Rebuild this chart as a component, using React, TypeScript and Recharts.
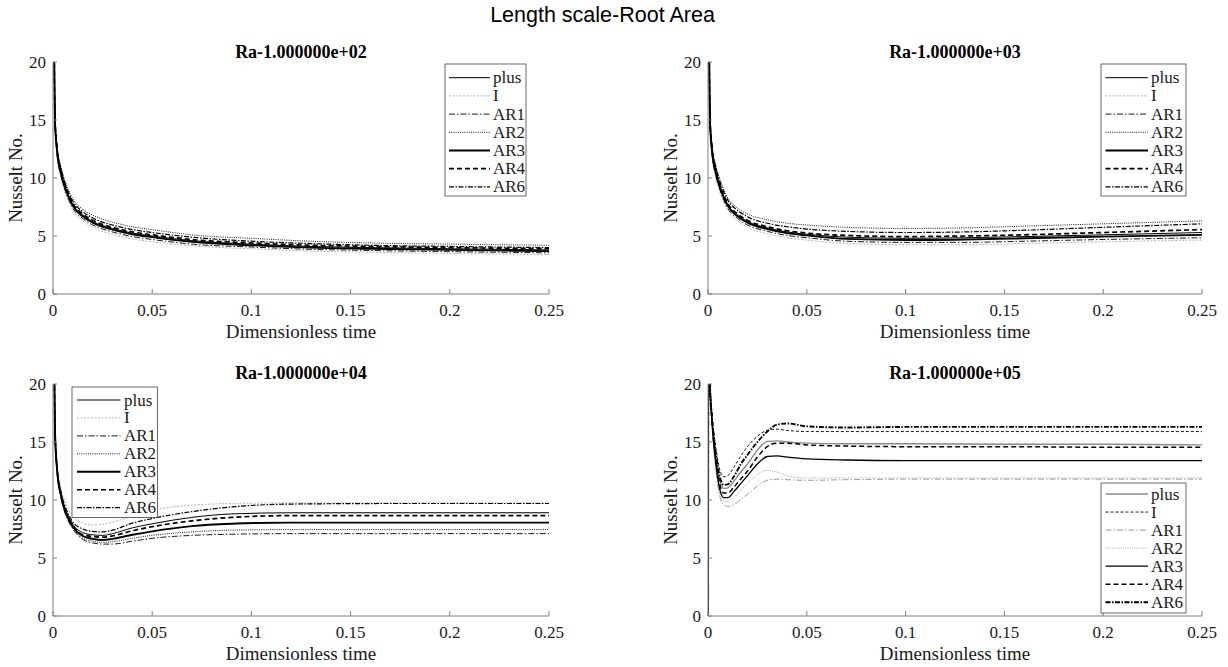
import { LineChart, Line, XAxis, YAxis } from "recharts";

const seriesNames = ["plus", "I", "AR1", "AR2", "AR3", "AR4", "AR6"];
const xTicks = [0, 0.05, 0.1, 0.15, 0.2, 0.25];
const yTicks = [0, 5, 10, 15, 20];

// Ra = 1e2 and 1e3 share the same sampling times
const timeTop = [0.0005, 0.001, 0.002, 0.004, 0.006, 0.008, 0.01, 0.015, 0.02, 0.03, 0.04, 0.05, 0.07, 0.1, 0.13, 0.16, 0.2, 0.25];

const ra2Plus = [22, 15.0, 12.5, 10.5, 9.3, 8.4, 7.7, 6.8, 6.25, 5.65, 5.25, 5.0, 4.6, 4.3, 4.1, 4.0, 3.9, 3.8];
const ra2I = [22, 14.7, 12.0, 10.0, 8.8, 7.9, 7.2, 6.3, 5.75, 5.15, 4.75, 4.5, 4.15, 3.9, 3.7, 3.6, 3.5, 3.4];
const ra2AR1 = [22, 14.8, 12.2, 10.2, 9.0, 8.1, 7.4, 6.5, 5.95, 5.35, 4.95, 4.7, 4.3, 4.05, 3.85, 3.75, 3.65, 3.55];
const ra2AR2 = [22, 15.3, 12.9, 11.0, 9.8, 8.9, 8.2, 7.3, 6.8, 6.2, 5.8, 5.55, 5.1, 4.8, 4.55, 4.4, 4.3, 4.2];
const ra2AR3 = [22, 14.9, 12.4, 10.4, 9.2, 8.3, 7.6, 6.7, 6.15, 5.55, 5.15, 4.9, 4.5, 4.2, 4.0, 3.9, 3.8, 3.7];
const ra2AR4 = [22, 15.1, 12.6, 10.6, 9.4, 8.5, 7.8, 6.9, 6.35, 5.75, 5.35, 5.1, 4.7, 4.4, 4.2, 4.1, 4.0, 3.9];
const ra2AR6 = [22, 15.2, 12.7, 10.8, 9.6, 8.7, 8.0, 7.1, 6.55, 5.95, 5.55, 5.3, 4.9, 4.55, 4.35, 4.2, 4.1, 4.0];

const ra3Plus = [22, 15.0, 12.5, 10.5, 9.3, 8.4, 7.7, 6.8, 6.25, 5.7, 5.35, 5.15, 4.9, 4.8, 4.85, 4.95, 5.1, 5.3];
const ra3I = [22, 14.7, 12.0, 10.0, 8.8, 7.9, 7.2, 6.3, 5.75, 5.2, 4.85, 4.65, 4.35, 4.25, 4.25, 4.35, 4.5, 4.65];
const ra3AR1 = [22, 14.8, 12.2, 10.2, 9.0, 8.1, 7.4, 6.5, 5.95, 5.4, 5.05, 4.85, 4.55, 4.45, 4.45, 4.55, 4.7, 4.85];
const ra3AR2 = [22, 15.4, 13.0, 11.1, 9.9, 9.0, 8.3, 7.4, 6.9, 6.4, 6.1, 5.95, 5.75, 5.65, 5.7, 5.85, 6.05, 6.3];
const ra3AR3 = [22, 14.9, 12.4, 10.4, 9.2, 8.3, 7.6, 6.7, 6.15, 5.6, 5.25, 5.05, 4.75, 4.65, 4.7, 4.8, 4.95, 5.1];
const ra3AR4 = [22, 15.1, 12.6, 10.6, 9.4, 8.5, 7.8, 6.9, 6.35, 5.8, 5.45, 5.25, 5.05, 4.95, 5.0, 5.1, 5.3, 5.55];
const ra3AR6 = [22, 15.3, 12.8, 10.9, 9.7, 8.8, 8.1, 7.2, 6.65, 6.1, 5.8, 5.6, 5.4, 5.3, 5.35, 5.5, 5.75, 6.05];

const timeRa4 = [0.0005, 0.001, 0.002, 0.004, 0.006, 0.008, 0.01, 0.015, 0.02, 0.025, 0.03, 0.04, 0.05, 0.07, 0.09, 0.12, 0.18, 0.25];
const ra4Plus = [24, 16, 12.9, 10.6, 9.3, 8.5, 7.9, 7.2, 7.0, 6.95, 7.1, 7.6, 7.95, 8.5, 8.8, 8.9, 8.9, 8.9];
const ra4I = [24, 16, 13.2, 11.0, 9.9, 9.1, 8.6, 8.0, 7.85, 7.9, 8.1, 8.6, 9.1, 9.55, 9.7, 9.75, 9.75, 9.75];
const ra4AR1 = [24, 16, 12.5, 10.2, 8.9, 8.1, 7.5, 6.6, 6.3, 6.2, 6.2, 6.45, 6.7, 6.95, 7.05, 7.1, 7.1, 7.1];
const ra4AR2 = [24, 16, 12.6, 10.3, 9.0, 8.2, 7.6, 6.7, 6.45, 6.35, 6.4, 6.7, 6.95, 7.25, 7.4, 7.45, 7.45, 7.45];
const ra4AR3 = [24, 16, 12.7, 10.4, 9.1, 8.3, 7.7, 6.9, 6.65, 6.55, 6.65, 7.0, 7.3, 7.75, 7.95, 8.05, 8.05, 8.05];
const ra4AR4 = [24, 16, 12.8, 10.5, 9.2, 8.4, 7.8, 7.0, 6.85, 6.8, 6.9, 7.35, 7.7, 8.2, 8.5, 8.65, 8.65, 8.65];
const ra4AR6 = [24, 16, 13.0, 10.7, 9.5, 8.7, 8.1, 7.5, 7.3, 7.25, 7.4, 8.0, 8.4, 9.0, 9.4, 9.65, 9.7, 9.7];

const timeRa5 = [0, 0.0003, 0.001, 0.002, 0.004, 0.006, 0.008, 0.01, 0.013, 0.017, 0.02, 0.025, 0.03, 0.035, 0.04, 0.05, 0.07, 0.1, 0.15, 0.2, 0.25];
const ra5Plus = [0, 26, 20, 17.0, 13.7, 11.7, 11.0, 11.05, 11.6, 12.5, 13.1, 14.3, 15.05, 15.1, 15.0, 14.9, 14.85, 14.85, 14.8, 14.8, 14.75];
const ra5I = [0, 26, 20, 17.5, 14.5, 12.6, 12.0, 12.1, 12.8, 13.9, 14.6, 15.5, 16.0, 16.1, 16.0, 15.9, 15.9, 15.9, 15.9, 15.9, 15.9];
const ra5AR1 = [0, 26, 20, 16.6, 12.5, 10.3, 9.6, 9.45, 9.6, 10.1, 10.5, 11.2, 11.7, 11.8, 11.75, 11.7, 11.75, 11.8, 11.8, 11.8, 11.8];
const ra5AR2 = [0, 26, 20, 16.7, 12.8, 10.6, 9.9, 9.85, 10.2, 10.9, 11.4, 12.2, 12.55, 12.4, 12.1, 11.9, 11.9, 11.9, 11.9, 11.9, 11.9];
const ra5AR3 = [0, 26, 20, 16.8, 13.1, 10.9, 10.2, 10.2, 10.7, 11.5, 12.1, 13.1, 13.75, 13.8, 13.7, 13.55, 13.45, 13.4, 13.4, 13.4, 13.4];
const ra5AR4 = [0, 26, 20, 16.9, 13.4, 11.3, 10.6, 10.6, 11.1, 11.9, 12.5, 13.7, 14.6, 14.9, 14.9, 14.75, 14.65, 14.6, 14.6, 14.55, 14.55];
const ra5AR6 = [0, 26, 20, 17.2, 14.0, 12.0, 11.3, 11.35, 12.0, 13.2, 13.9, 15.0, 15.9, 16.5, 16.6, 16.35, 16.25, 16.3, 16.3, 16.3, 16.3];

function makeRows(time: number[], cols: number[][]) {
  return time.map((t, i) => {
    const row: any = { t };
    seriesNames.forEach((n, k) => (row[n] = cols[k][i]));
    return row;
  });
}

const dataRa2 = makeRows(timeTop, [ra2Plus, ra2I, ra2AR1, ra2AR2, ra2AR3, ra2AR4, ra2AR6]);
const dataRa3 = makeRows(timeTop, [ra3Plus, ra3I, ra3AR1, ra3AR2, ra3AR3, ra3AR4, ra3AR6]);
const dataRa4 = makeRows(timeRa4, [ra4Plus, ra4I, ra4AR1, ra4AR2, ra4AR3, ra4AR4, ra4AR6]);
const dataRa5 = makeRows(timeRa5, [ra5Plus, ra5I, ra5AR1, ra5AR2, ra5AR3, ra5AR4, ra5AR6]);

type Sty = { stroke: string; w: number; dash?: string };

const stylesA: Record<string, Sty> = {
  plus: { stroke: "#000", w: 1 },
  I: { stroke: "#b4b4b4", w: 1, dash: "2 1.5" },
  AR1: { stroke: "#000", w: 0.9, dash: "6 2 1.5 2" },
  AR2: { stroke: "#000", w: 0.9, dash: "1 1.2" },
  AR3: { stroke: "#000", w: 1.9 },
  AR4: { stroke: "#000", w: 1.7, dash: "5 3" },
  AR6: { stroke: "#000", w: 1.2, dash: "5 1.5 1.5 1.5" },
};

// the Ra=1e5 panel uses a different colour set
const stylesB: Record<string, Sty> = {
  plus: { stroke: "#8a8a8a", w: 1.4 },
  I: { stroke: "#000", w: 0.9, dash: "3 2" },
  AR1: { stroke: "#9a9a9a", w: 1, dash: "6 2 1.5 2" },
  AR2: { stroke: "#aaaaaa", w: 1, dash: "1 1.2" },
  AR3: { stroke: "#000", w: 1.3 },
  AR4: { stroke: "#000", w: 1.5, dash: "5 3" },
  AR6: { stroke: "#000", w: 1.9, dash: "5 1.5 1.5 1.5" },
};

const SERIF = "'Liberation Serif', 'Times New Roman', serif";
const AXIS = "#808080";
const TXT = "#1a1a1a";

const XTick = (p: any) => (
  <g>
    <line x1={p.x} x2={p.x} y1={p.y - 10} y2={p.y - 15} stroke={AXIS} />
    <text x={p.x} y={p.y} dy="0.71em" textAnchor="middle" fontFamily={SERIF} fontSize={17} fill={TXT}>
      {String(p.payload.value)}
    </text>
  </g>
);

const YTick = (p: any) => (
  <g>
    <line x1={p.x + 7} x2={p.x + 11} y1={p.y} y2={p.y} stroke={AXIS} />
    <text x={p.x} y={p.y} dy="0.35em" textAnchor="end" fontFamily={SERIF} fontSize={17} fill={TXT}>
      {String(p.payload.value)}
    </text>
  </g>
);

function Panel({ left, top, data, styles, plotW }: any) {
  return (
    <div style={{ position: "absolute", left, top }}>
      <LineChart width={53 + plotW + 22} height={340} data={data} margin={{ top: 62, right: 22, bottom: 0, left: 0 }}>
        <XAxis
          type="number"
          dataKey="t"
          domain={[0, 0.25]}
          ticks={xTicks}
          height={46}
          tickSize={0}
          tickMargin={10}
          tick={<XTick />}
          tickLine={false}
          axisLine={{ stroke: AXIS }}
          allowDataOverflow
        />
        <YAxis
          type="number"
          domain={[0, 20]}
          ticks={yTicks}
          width={53}
          tickSize={0}
          tickMargin={7}
          tick={<YTick />}
          tickLine={false}
          axisLine={{ stroke: AXIS }}
          allowDataOverflow
        />
        {seriesNames.map((n) => (
          <Line
            key={n}
            dataKey={n}
            type="monotone"
            stroke={styles[n].stroke}
            strokeWidth={styles[n].w}
            strokeDasharray={styles[n].dash}
            dot={false}
            activeDot={false}
            isAnimationActive={false}
          />
        ))}
      </LineChart>
    </div>
  );
}

function LegendBox({ x, y, w, h, row0, step, s1, s2, tx, styles }: any) {
  return (
    <g>
      <rect x={x} y={y} width={w} height={h} fill="#fff" stroke="#444" strokeWidth={0.8} />
      {seriesNames.map((n, i) => {
        const ry = row0 + i * step;
        const st = styles[n];
        return (
          <g key={n}>
            <line x1={s1} x2={s2} y1={ry} y2={ry} stroke={st.stroke} strokeWidth={st.w} strokeDasharray={st.dash} />
            <text x={tx} y={ry + 5.5} fontFamily={SERIF} fontSize={17} fill={TXT}>
              {n}
            </text>
          </g>
        );
      })}
    </g>
  );
}

const subTitles = ["Ra-1.000000e+02", "Ra-1.000000e+03", "Ra-1.000000e+04", "Ra-1.000000e+05"];

export default function App() {
  const centers = [301, 955];
  const rows = [0, 322];
  return (
    <div style={{ position: "absolute", left: 0, top: 0, width: 1228, height: 667, background: "#fff", overflow: "hidden" }}>
      <Panel left={0} top={0} plotW={496} data={dataRa2} styles={stylesA} />
      <Panel left={655} top={0} plotW={494} data={dataRa3} styles={stylesA} />
      <Panel left={0} top={322} plotW={496} data={dataRa4} styles={stylesA} />
      <Panel left={655} top={322} plotW={494} data={dataRa5} styles={stylesB} />
      <svg width={1228} height={667} style={{ position: "absolute", left: 0, top: 0, pointerEvents: "none" }}>
        <text x={602.5} y={22} textAnchor="middle" fontFamily="'Liberation Sans', Arial, sans-serif" fontSize={21.5} fill="#000">
          Length scale-Root Area
        </text>
        {subTitles.map((s, i) => (
          <text
            key={s}
            x={centers[i % 2]}
            y={(i < 2 ? 57.5 : 379)}
            textAnchor="middle"
            fontFamily={SERIF}
            fontWeight="bold"
            fontSize={18}
            fill="#000"
          >
            {s}
          </text>
        ))}
        {[0, 1, 2, 3].map((i) => (
          <g key={i}>
            <text x={centers[i % 2]} y={rows[i < 2 ? 0 : 1] + 338} textAnchor="middle" fontFamily={SERIF} fontSize={19} fill={TXT}>
              Dimensionless time
            </text>
            <text
              transform={`translate(${i % 2 ? 677 : 22}, ${i < 2 ? 178 : 500}) rotate(-90)`}
              textAnchor="middle"
              fontFamily={SERIF}
              fontSize={19}
              fill={TXT}
            >
              Nusselt No.
            </text>
          </g>
        ))}
        <LegendBox x={445} y={64} w={81} h={132} row0={77.7} step={18.2} s1={449} s2={490} tx={493} styles={stylesA} />
        <LegendBox x={1101} y={64} w={85} h={132} row0={77.7} step={18.2} s1={1105.5} s2={1148} tx={1151} styles={stylesA} />
        <LegendBox x={72} y={387} w={85.5} h={130.5} row0={400} step={17.95} s1={77} s2={120.5} tx={124} styles={stylesA} />
        <LegendBox x={1101} y={483} w={85} h={130} row0={494} step={18.05} s1={1105.5} s2={1148} tx={1151} styles={stylesB} />
      </svg>
    </div>
  );
}
